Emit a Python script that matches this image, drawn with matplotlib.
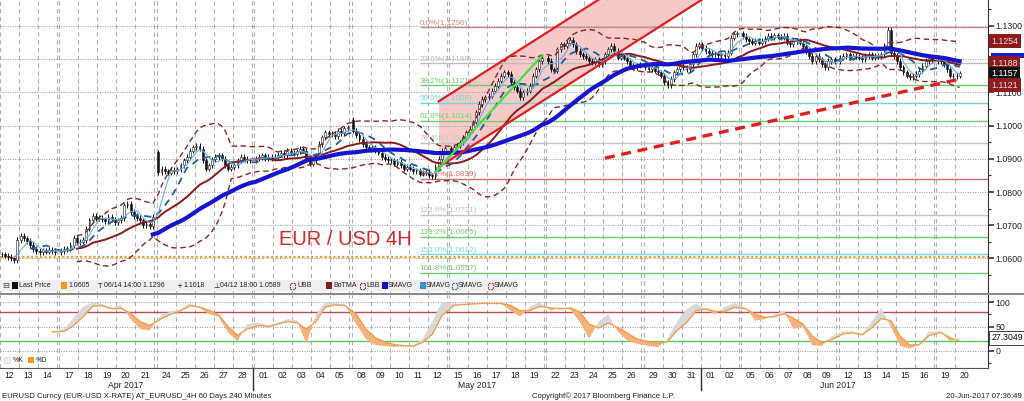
import datetime as dt
import numpy as np
import pandas as pd
import matplotlib
matplotlib.use("Agg")
import matplotlib.pyplot as plt
from matplotlib.patches import Rectangle
from matplotlib.lines import Line2D
from matplotlib.transforms import blended_transform_factory

plt.rcParams['font.family'] = ['Liberation Sans', 'DejaVu Sans']

# ---- data --------------------------------------------------------------
days = ["2017-04-12", "2017-04-13", "2017-04-14", "2017-04-17", "2017-04-18",
        "2017-04-19", "2017-04-20", "2017-04-21", "2017-04-24", "2017-04-25",
        "2017-04-26", "2017-04-27", "2017-04-28", "2017-05-01", "2017-05-02",
        "2017-05-03", "2017-05-04", "2017-05-05", "2017-05-08", "2017-05-09",
        "2017-05-10", "2017-05-11", "2017-05-12", "2017-05-15", "2017-05-16",
        "2017-05-17", "2017-05-18", "2017-05-19", "2017-05-22", "2017-05-23",
        "2017-05-24", "2017-05-25", "2017-05-26", "2017-05-29", "2017-05-30",
        "2017-05-31", "2017-06-01", "2017-06-02", "2017-06-05", "2017-06-06",
        "2017-06-07", "2017-06-08", "2017-06-09", "2017-06-12", "2017-06-13",
        "2017-06-14", "2017-06-15", "2017-06-16", "2017-06-19", "2017-06-20"]

# 4H closes, six bars per day
closes = [
    [1.0612, 1.0608, 1.0604, 1.0600, 1.0594, 1.0655],
    [1.0668, 1.0660, 1.0652, 1.0640, 1.0628, 1.0622],
    [1.0618, 1.0624, 1.0620, 1.0626, 1.0622, 1.0619],
    [1.0622, 1.0628, 1.0630, 1.0640, 1.0662, 1.0648],
    [1.0650, 1.0655, 1.0690, 1.0715, 1.0728, 1.0720],
    [1.0722, 1.0718, 1.0712, 1.0725, 1.0718, 1.0710],
    [1.0715, 1.0722, 1.0760, 1.0765, 1.0740, 1.0728],
    [1.0722, 1.0715, 1.0700, 1.0705, 1.0698, 1.0725],
    [1.0860, 1.0870, 1.0862, 1.0858, 1.0866, 1.0862],
    [1.0868, 1.0880, 1.0895, 1.0905, 1.0925, 1.0935],
    [1.0940, 1.0930, 1.0895, 1.0870, 1.0880, 1.0898],
    [1.0905, 1.0910, 1.0900, 1.0880, 1.0870, 1.0875],
    [1.0880, 1.0895, 1.0905, 1.0900, 1.0895, 1.0895],
    [1.0900, 1.0905, 1.0910, 1.0900, 1.0905, 1.0902],
    [1.0905, 1.0912, 1.0918, 1.0910, 1.0925, 1.0918],
    [1.0915, 1.0922, 1.0930, 1.0925, 1.0900, 1.0885],
    [1.0895, 1.0910, 1.0945, 1.0965, 1.0980, 1.0975],
    [1.0975, 1.0968, 1.0985, 1.0978, 1.0992, 1.0995],
    [1.0985, 1.0972, 1.0960, 1.0945, 1.0935, 1.0930],
    [1.0935, 1.0925, 1.0918, 1.0905, 1.0900, 1.0895],
    [1.0895, 1.0885, 1.0890, 1.0880, 1.0870, 1.0875],
    [1.0870, 1.0862, 1.0865, 1.0855, 1.0858, 1.0860],
    [1.0850, 1.0847, 1.0875, 1.0900, 1.0925, 1.0932],
    [1.0928, 1.0935, 1.0940, 1.0950, 1.0965, 1.0980],
    [1.0990, 1.1010, 1.1040, 1.1065, 1.1080, 1.1085],
    [1.1090, 1.1105, 1.1120, 1.1135, 1.1150, 1.1160],
    [1.1155, 1.1130, 1.1115, 1.1105, 1.1085, 1.1100],
    [1.1105, 1.1120, 1.1150, 1.1170, 1.1195, 1.1205],
    [1.1195, 1.1170, 1.1165, 1.1230, 1.1245, 1.1240],
    [1.1250, 1.1258, 1.1245, 1.1225, 1.1215, 1.1210],
    [1.1205, 1.1195, 1.1190, 1.1200, 1.1185, 1.1195],
    [1.1215, 1.1230, 1.1240, 1.1225, 1.1205, 1.1210],
    [1.1205, 1.1195, 1.1180, 1.1175, 1.1180, 1.1185],
    [1.1175, 1.1170, 1.1175, 1.1165, 1.1160, 1.1150],
    [1.1130, 1.1121, 1.1140, 1.1160, 1.1170, 1.1180],
    [1.1175, 1.1170, 1.1185, 1.1215, 1.1240, 1.1245],
    [1.1235, 1.1225, 1.1220, 1.1215, 1.1218, 1.1213],
    [1.1215, 1.1210, 1.1220, 1.1265, 1.1275, 1.1278],
    [1.1270, 1.1260, 1.1255, 1.1250, 1.1255, 1.1250],
    [1.1255, 1.1262, 1.1270, 1.1265, 1.1272, 1.1268],
    [1.1265, 1.1270, 1.1250, 1.1245, 1.1255, 1.1255],
    [1.1250, 1.1240, 1.1225, 1.1210, 1.1195, 1.1210],
    [1.1200, 1.1185, 1.1175, 1.1195, 1.1200, 1.1195],
    [1.1205, 1.1210, 1.1215, 1.1205, 1.1210, 1.1208],
    [1.1205, 1.1200, 1.1210, 1.1215, 1.1205, 1.1210],
    [1.1210, 1.1215, 1.1240, 1.1288, 1.1220, 1.1210],
    [1.1195, 1.1175, 1.1160, 1.1150, 1.1145, 1.1150],
    [1.1155, 1.1165, 1.1180, 1.1195, 1.1205, 1.1198],
    [1.1195, 1.1200, 1.1185, 1.1170, 1.1150, 1.1148],
    [1.1150, 1.1157],
]
# weekend gap opens
gap_open = {"2017-04-24": 1.0920, "2017-05-08": 1.1018}
wick = 0.0008

# fibonacci retracement
fib_pct = [0.0, 23.6, 38.2, 50.0, 61.8, 76.4, 100.0, 123.6, 138.2, 150.0, 161.8]
fib_price = [1.1296, 1.1188, 1.1121, 1.1068, 1.1014, 1.0948, 1.0839, 1.0731, 1.0665, 1.0612, 1.0557]
fib_color = ['#c98a8a', '#bdbdbd', '#6fcf6f', '#73d6d6', '#6fcf6f', '#c4c4c4',
             '#d46a6a', '#c4c4c4', '#6fcf6f', '#7ad8e0', '#6fcf6f']
fib_start = ("2017-05-11", 3)
last_price_line = 1.0605

# drawn trend objects: (day, bar, price)
channel_lower = [("2017-05-12", 3, 1.0875), ("2017-05-29", 1, 1.1277)]
channel_width = 0.0198
green_line = [("2017-05-12", 2, 1.0860), ("2017-05-19", 5, 1.1212)]
support_line = [("2017-05-25", 0, 1.0902), ("2017-06-20", 1, 1.1140)]

# slow stochastics, two readings per day
stoch_d = [np.nan, np.nan, np.nan, np.nan, np.nan, 39, 40, 52, 70, 91, 93, 86, 87, 77,
           60, 52, 66, 75, 82, 92, 90, 83, 74, 50, 32, 45, 52, 50, 55, 60, 58, 45,
           60, 90, 94, 93, 75, 45, 27, 18, 13, 11, 10, 18, 34, 72, 93, 95, 96, 97,
           97, 97, 93, 82, 82, 91, 88, 86, 88, 80, 55, 47, 57, 48, 37, 25, 19, 16,
           19, 42, 58, 82, 86, 81, 80, 89, 86, 75, 69, 70, 76, 67, 55, 30, 17, 23,
           35, 37, 33, 47, 66, 62, 30, 12, 13, 31, 38, 27, 20]
stoch_k = [np.nan, np.nan, np.nan, np.nan, np.nan, 38, 45, 68, 90, 100, 95, 88, 95, 65,
           45, 42, 75, 80, 86, 98, 88, 75, 70, 38, 20, 55, 58, 52, 58, 65, 62, 15,
           75, 100, 98, 96, 55, 25, 12, 10, 8, 10, 12, 25, 60, 100, 97, 96, 98, 98,
           98, 97, 82, 70, 90, 100, 82, 90, 85, 60, 25, 60, 75, 40, 22, 15, 10, 8,
           25, 60, 85, 97, 85, 75, 90, 98, 88, 62, 65, 75, 82, 45, 50, 12, 10, 30,
           40, 40, 35, 60, 88, 50, 10, 5, 12, 40, 40, 20, 27]

# right-hand value tags: text, value, box colour, text colour
tags_main = [("1.1254", 1.1254, '#8e1c1c', '#f3dada'),
             ("1.1188", 1.1188, '#8e1c1c', '#f3dada'),
             ("1.1157", 1.1157, '#111111', 'white'),
             ("1.1121", 1.1121, '#8e1c1c', '#f3dada')]
slow_sma_tag = 1.1205   # mostly hidden behind the 1.1188 tag
price_ticks = [1.06, 1.07, 1.08, 1.09, 1.10, 1.11, 1.12, 1.13]
price_tick_labels = ["1.0600", "1.0700", "1.0800", "1.0900", "1.1000", "1.1100", "", "1.1300"]

# ---- layout helpers -----------------------------------------------------
WEEKEND_GAP = 0.126
BARS = 6
dates = [dt.date.fromisoformat(d) for d in days]
day_x = []
pos = 0.0
for i, d in enumerate(dates):
    if i and (d - dates[i - 1]).days > 1:
        pos += WEEKEND_GAP
    day_x.append(pos)
    pos += 1.0


def bar_x(day, j):
    return day_x[days.index(day)] + (j + 0.5) / BARS


bx, bo, bc = [], [], []
prev = None
for d, cl in zip(days, closes):
    for j, c in enumerate(cl):
        if j == 0 and d in gap_open:
            o = gap_open[d]
        else:
            o = prev if prev is not None else c
        bx.append(bar_x(d, j))
        bo.append(o)
        bc.append(c)
        prev = c
bx, bo, bc = np.array(bx), np.array(bo), np.array(bc)
hi = np.maximum(bo, bc) + wick
lo = np.minimum(bo, bc) - wick

s = pd.Series(bc)
sma_fast = s.rolling(5).mean()
sma_mid = s.rolling(10).mean()
bb_mid = s.rolling(24).mean()
bb_sd = s.rolling(24).std(ddof=0)
ubb = bb_mid + 2 * bb_sd
lbb = bb_mid - 2 * bb_sd
sma_slow = s.rolling(48).mean()

W, H = 1024, 401
fig = plt.figure(figsize=(W / 100, H / 100), dpi=100)
ax = fig.add_axes([0, (H - 293) / H, 988 / W, 293 / H])
ax2 = fig.add_axes([0, (H - 368) / H, 988 / W, 73 / H])

XMAX = 988 / 19.0
for a in (ax, ax2):
    a.set_xlim(0, XMAX)
    a.set_facecolor('white')
    for sp in ('top', 'left'):
        a.spines[sp].set_visible(False)
    a.spines['right'].set_color('#333333')
    a.spines['right'].set_linewidth(0.8)
    a.yaxis.tick_right()
    # day separators
    for i, d in enumerate(dates):
        a.axvline(day_x[i], color='#b4b4b4', lw=0.8, ls=(0, (4, 3)), zorder=0.5)
        if i + 1 < len(dates) and (dates[i + 1] - d).days > 1:
            a.axvline(day_x[i] + 1.0, color='#b4b4b4', lw=0.8, ls=(0, (4, 3)), zorder=0.5)
ax.spines['bottom'].set_visible(False)
ax2.spines['bottom'].set_color('#555555')
ax2.spines['bottom'].set_linewidth(0.8)

# ---- main panel ---------------------------------------------------------
ax.set_ylim(1.04958, 1.13783)
ax.set_yticks(price_ticks)
ax.set_yticklabels(price_tick_labels)
ax.set_yticks(np.arange(1.055, 1.1351, 0.01), minor=True)
ax.tick_params(axis='y', which='major', direction='out', length=4, width=1.2,
               color='#333333', labelsize=6.3, pad=1.5, labelcolor='#222222')
ax.tick_params(axis='y', which='minor', direction='out', length=2.5, width=0.8, color='#333333')
ax.tick_params(axis='x', bottom=False, labelbottom=False)
ax.grid(axis='y', which='major', ls=(0, (1, 1.5)), color='#9a9a9a', lw=0.7, zorder=0.4)

# channel
x0 = bar_x(*channel_lower[0][:2])
x1 = bar_x(*channel_lower[1][:2])
y0, y1 = channel_lower[0][2], channel_lower[1][2]
slope = (y1 - y0) / (x1 - x0)
x_end = x0 + (ax.get_ylim()[1] - y0) / slope
ch_x = np.array([x0, x_end])
ch_lo = y0 + slope * (ch_x - x0)
ax.fill_between(ch_x, ch_lo, ch_lo + channel_width, color='#f7c9c9', lw=0, zorder=1)
ax.plot(ch_x, ch_lo, color='#e02020', lw=1.6, zorder=6)
ax.plot(ch_x, ch_lo + channel_width, color='#e02020', lw=1.6, zorder=6)

# fibonacci
fx = bar_x(*fib_start)
for pct, price, col in zip(fib_pct, fib_price, fib_color):
    ax.hlines(price, fx, XMAX, color=col, lw=1.0, zorder=1.5)
    ax.text(fx, price + 0.0002, f"{pct:.1f}%({price:.4f})", color=col, fontsize=5.8,
            va='bottom', ha='left', zorder=1.6)
ax.axhline(last_price_line, color='#f0a030', lw=1.6, ls=(0, (1, 1)), zorder=1.7)

# candles
up = bc >= bo
ax.vlines(bx, lo, hi, color='#111111', lw=0.7, zorder=3)
body = np.maximum(np.abs(bc - bo), 0.0001)
ax.bar(bx[up], body[up], bottom=np.minimum(bo, bc)[up], width=0.1,
       color='white', edgecolor='#111111', lw=0.4, zorder=3.1)
ax.bar(bx[~up], body[~up], bottom=np.minimum(bo, bc)[~up], width=0.1,
       color='#111111', edgecolor='#111111', lw=0.4, zorder=3.1)

# indicators
ax.plot(bx, ubb, color='#8b2525', lw=1.0, ls=(0, (4, 2.5)), zorder=4)
ax.plot(bx, lbb, color='#8b2525', lw=1.0, ls=(0, (4, 2.5)), zorder=4)
ax.plot(bx, bb_mid, color='#8b1a1a', lw=1.4, zorder=4.2)
ax.plot(bx, sma_fast, color='#6aaee6', lw=0.8, zorder=4.4)
ax.plot(bx, sma_mid, color='#1f5f9f', lw=1.3, ls=(0, (4, 3)), zorder=4.3)
ax.plot(bx, sma_slow, color='#1515d0', lw=3.0, zorder=4.5)

gx = [bar_x(d, j) for d, j, _ in green_line]
ax.plot(gx, [p for _, _, p in green_line], color='#44e044', lw=1.6, zorder=6)
sx = [bar_x(d, j) for d, j, _ in support_line]
ax.plot(sx, [p for _, _, p in support_line], color='#e02020', lw=2.4,
        ls=(0, (3, 2)), zorder=6)

ax.text(0.282, 0.181, "EUR / USD 4H", transform=ax.transAxes, color='#d42a2a',
        fontsize=14.5, va='center', ha='left', zorder=7)


def tag(a, y, text, fc, tc, ec='none', z=10):
    a.annotate(text, xy=(1, y), xycoords=a.get_yaxis_transform(), xytext=(2.5, 0),
               textcoords='offset points', ha='left', va='center', fontsize=6.3,
               color=tc, annotation_clip=False, zorder=z,
               bbox=dict(boxstyle='square,pad=0.28', fc=fc, ec=ec, lw=0.6))


# blue strip of the slow SMAVG tag peeking out above the 1.1188 tag
ax.add_patch(Rectangle((1.0 + 3 / 988, slow_sma_tag - 0.00015), 34 / 988, 0.0016,
                       transform=ax.get_yaxis_transform(), fc='#1c1cd0', ec='none',
                       clip_on=False, zorder=9))
for k, (txt, y, fc, tc) in enumerate(tags_main):
    tag(ax, y, txt, fc, tc, z=10 + k)

# ---- stochastics panel ---------------------------------------------------
st_x = []
for i in range(len(days)):
    for off in (0.25, 0.75):
        st_x.append(day_x[i] + off)
st_x = np.array(st_x[:len(stoch_d)])
sd_ = np.array(stoch_d, dtype=float)
sk_ = np.array(stoch_k, dtype=float)

ax2.set_ylim(-34.7, 114.3)
ax2.set_yticks([0, 50, 100])
ax2.set_yticks([-25, 25, 75], minor=True)
ax2.tick_params(axis='y', which='major', direction='out', length=4, width=1.2,
                color='#333333', labelsize=6.3, pad=1.5, labelcolor='#222222')
ax2.tick_params(axis='y', which='minor', direction='out', length=2.5, width=0.8, color='#333333')
ax2.grid(axis='y', which='major', ls=(0, (1, 1.5)), color='#9a9a9a', lw=0.7, zorder=0.4)
ax2.axhline(80, color='#c05050', lw=1.0, zorder=1)
ax2.axhline(20, color='#5cc85c', lw=1.0, zorder=1)
ax2.fill_between(st_x, sd_, sk_, where=sk_ >= sd_, interpolate=True,
                 color='#d9d9d9', lw=0, zorder=2)
ax2.fill_between(st_x, sd_, sk_, where=sk_ < sd_, interpolate=True,
                 color='#f6b27c', lw=0, zorder=2)
ax2.plot(st_x, sd_, color='#eea050', lw=1.0, zorder=3)
# orange %D tag, almost fully covered by the %K tag
ax2.add_patch(Rectangle((1.0 + 3 / 988, 12.5), 34 / 988, 14,
                        transform=ax2.get_yaxis_transform(), fc='#e8901c', ec='none',
                        clip_on=False, zorder=9))
tag(ax2, 27.3, "27.3049", 'white', '#111111', ec='#222222', z=11)

centers = [x + 0.5 for x in day_x]
ax2.set_xticks(centers)
ax2.set_xticklabels([d.strftime('%d') for d in dates])
ax2.tick_params(axis='x', length=0, labelsize=6.2, pad=2, labelcolor='#222222')

bt = blended_transform_factory(ax2.transData, fig.transFigure)
months = [("Apr 2017", 4), ("May 2017", 5), ("Jun 2017", 6)]
for name, m in months:
    idx = [i for i, d in enumerate(dates) if d.month == m]
    xc = (day_x[idx[0]] + day_x[idx[-1]] + 1.0) / 2
    fig.text(xc, (H - 385) / H, name, transform=bt, ha='center', va='center',
             fontsize=6.2, color='#222222')
for i in range(1, len(dates)):
    if dates[i].month != dates[i - 1].month:
        xs = (day_x[i - 1] + 1.0 + day_x[i]) / 2
        fig.lines.append(Line2D([xs, xs], [(H - 368) / H, (H - 390) / H], transform=bt,
                                color='#333333', lw=1.0))

# separator and legend strip
fig.patches.append(Rectangle((0, (H - 295) / H), 1.0, 2.5 / H, transform=fig.transFigure,
                             fc='#8a8a8a', ec='none', zorder=5))
fig.patches.append(Rectangle((0, (H - 291) / H), 517 / W, 11 / H, transform=fig.transFigure,
                             fc='#efefef', ec='none', zorder=5))


def fx_(px):
    return px / W


ly = (H - 285.5) / H
legend_items = [
    ('box', '#111111', 12, "Last Price", 19),
    ('box', '#f09a20', 61, "1.0605", 68),
    ('txt', 'T', 98, "06/14 14:00 1.1296", 104),
    ('txt', '+', 176, "1.1018", 183),
    ('txt', '\u22a5', 213, "04/12 18:00 1.0589", 220),
    ('brk', '#8b2525', 290, "UBB", 297),
    ('box', '#8b1a1a', 326, "BoTMA", 333),
    ('brk', '#8b2525', 360, "LBB", 366),
    ('box', '#1515c0', 382, "SMAVG", 388),
    ('box', '#3f8fe0', 420, "SMAVG", 426),
    ('brk', '#1f5f9f', 452, "SMAVG", 458),
    ('brk', '#c03030', 488, "SMAVG", 494),
]
fig.text(fx_(2), ly, '\u229f', fontsize=6, va='center', ha='left', color='#444444',
         family='DejaVu Sans', zorder=6)
for kind, c, mx, label, tx in legend_items:
    if kind == 'box':
        fig.patches.append(Rectangle((fx_(mx), ly - 3.5 / H), 6 / W, 7 / H,
                                     transform=fig.transFigure, fc=c, ec='none', zorder=6))
    elif kind == 'brk':
        fig.patches.append(Rectangle((fx_(mx), ly - 3 / H), 5 / W, 6 / H,
                                     transform=fig.transFigure, fc='none', ec=c,
                                     lw=0.8, ls=(0, (1.5, 1)), zorder=6))
    else:
        fig.text(fx_(mx), ly, c, fontsize=5.2, va='center', ha='left', color='#222222',
                 family='DejaVu Sans', zorder=6)
    fig.text(fx_(tx), ly, label, fontsize=5.0, va='center', ha='left', color='#222222', zorder=6)

# stochastics legend
sy = (H - 360) / H
fig.patches.append(Rectangle((fx_(4), sy - 3 / H), 6 / W, 6 / H, transform=fig.transFigure,
                             fc='#f2f2f2', ec='#cccccc', lw=0.4, zorder=6))
fig.text(fx_(13), sy, "%K", fontsize=5, va='center', color='#222222', zorder=6)
fig.patches.append(Rectangle((fx_(28), sy - 3 / H), 6 / W, 6 / H, transform=fig.transFigure,
                             fc='#f09a20', ec='none', zorder=6))
fig.text(fx_(36), sy, "%D", fontsize=5, va='center', color='#222222', zorder=6)

# footer
fy = (H - 396) / H
fig.text(fx_(2), fy, "EURUSD Curncy (EUR-USD X-RATE) AT_EURUSD_4H 60 Days 240 Minutes",
         fontsize=5.6, va='center', ha='left', color='#222222')
fig.text(fx_(603), fy, "Copyright\u00a9 2017 Bloomberg Finance L.P.", fontsize=5.6,
         va='center', ha='center', color='#222222')
fig.text(fx_(1022), fy, "20-Jun-2017 07:36:49", fontsize=5.6, va='center', ha='right',
         color='#222222')

fig.savefig("out.png", dpi=100)
